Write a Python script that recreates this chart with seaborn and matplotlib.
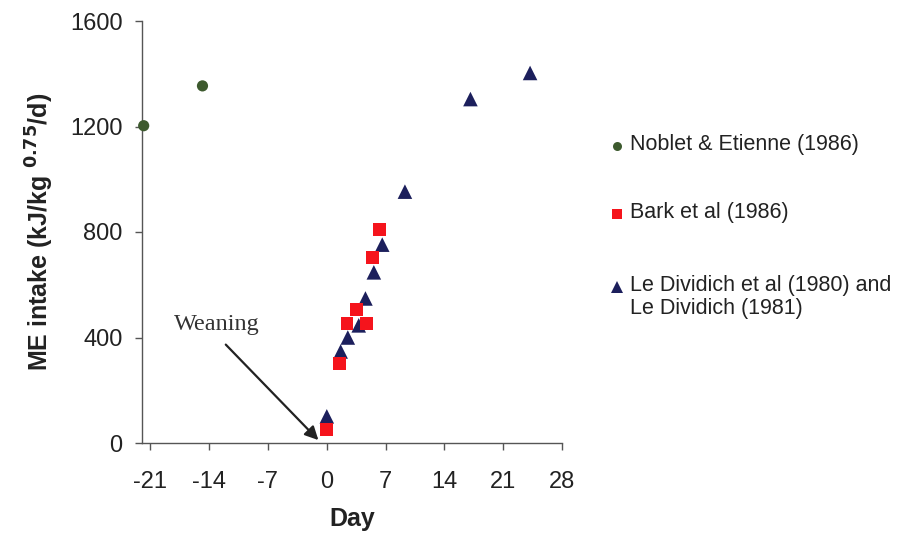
import numpy as np
import pandas as pd
import matplotlib
matplotlib.use("Agg")
import matplotlib.pyplot as plt
from matplotlib.lines import Line2D
import seaborn as sns

# Noblet & Etienne (1986)
noblet_day = [-21.8, -14.8]
noblet_me = [1203, 1354]

# Bark et al (1986)
bark_day = [0.0, 1.5, 2.4, 3.55, 4.7, 5.4, 6.3]
bark_me = [51, 301, 452, 506, 452, 703, 808]

# Le Dividich et al (1980) and Le Dividich (1981)
ledividich_day = [0.0, 1.65, 2.5, 3.8, 4.6, 5.6, 6.6, 9.3, 17.1, 24.2]
ledividich_me = [101, 347, 400, 446, 548, 647, 752, 953, 1304, 1403]

x_ticks = [-21, -14, -7, 0, 7, 14, 21, 28]
y_ticks = [0, 400, 800, 1200, 1600]

sns.set_style("white")
plt.rcParams['font.family'] = ['Liberation Sans', 'DejaVu Sans']
plt.rcParams['axes.unicode_minus'] = False

green, red, navy = '#3d5a2e', '#f5141c', '#1c1f5c'

fig = plt.figure(figsize=(9.23, 5.45), dpi=100)
ax = fig.add_axes([142 / 923, 1 - 443 / 545, (562 - 142) / 923, (443 - 21) / 545])

sns.scatterplot(x=noblet_day, y=noblet_me, ax=ax, color=green, marker='o', s=65,
                edgecolor='none', clip_on=False, zorder=3)
sns.scatterplot(x=ledividich_day, y=ledividich_me, ax=ax, color=navy, marker='^', s=110,
                edgecolor='none', clip_on=False, zorder=3)
sns.scatterplot(x=bark_day, y=bark_me, ax=ax, color=red, marker='s', s=85,
                edgecolor='none', clip_on=False, zorder=4)

ax.set_xlim(-22, 28)
ax.set_ylim(0, 1600)
ax.set_xticks(x_ticks)
ax.set_yticks(y_ticks)
ax.tick_params(axis='both', labelsize=17, colors='#555555', labelcolor='#222222',
               length=5, width=1, direction='out', bottom=True, left=True)
ax.tick_params(axis='x', pad=15)
ax.tick_params(axis='y', pad=9)
for s in ['top', 'right']:
    ax.spines[s].set_visible(False)
for s in ['left', 'bottom']:
    ax.spines[s].set_color('#555555')
    ax.spines[s].set_linewidth(1)

ax.set_xlabel('Day', fontsize=18, fontweight='bold', labelpad=10, color='#222222')
ax.set_ylabel('ME intake (kJ/kg $^{\\mathbf{0.75}}$/d)', fontsize=18, fontweight='bold',
              labelpad=10, color='#222222')

ax.annotate('Weaning', xy=(-1.0, 11), xytext=(-18.2, 448), fontsize=17.5,
            family='Liberation Serif', va='center', ha='left', color='#333333',
            arrowprops=dict(arrowstyle='-|>', color='#222222', lw=1.6, mutation_scale=20,
                            shrinkA=6, shrinkB=0, relpos=(0.5, 0.0)))

# legend drawn as figure artists
entries = [
    ('o', green, 9, 146, 'Noblet & Etienne (1986)'),
    ('s', red, 10, 214, 'Bark et al (1986)'),
    ('^', navy, 12, 287, 'Le Dividich et al (1980) and\nLe Dividich (1981)'),
]
for mk, col, ms, ypx, lab in entries:
    fig.add_artist(Line2D([617 / 923], [1 - ypx / 545], marker=mk, color=col, markersize=ms * 0.72,
                          linestyle='none', markeredgewidth=0, transform=fig.transFigure))
    fig.text(630 / 923, 1 - (ypx - 12) / 545, lab, fontsize=15.5, va='top', ha='left',
             color='#222222', linespacing=1.15)

fig.savefig('out.png', dpi=100)
